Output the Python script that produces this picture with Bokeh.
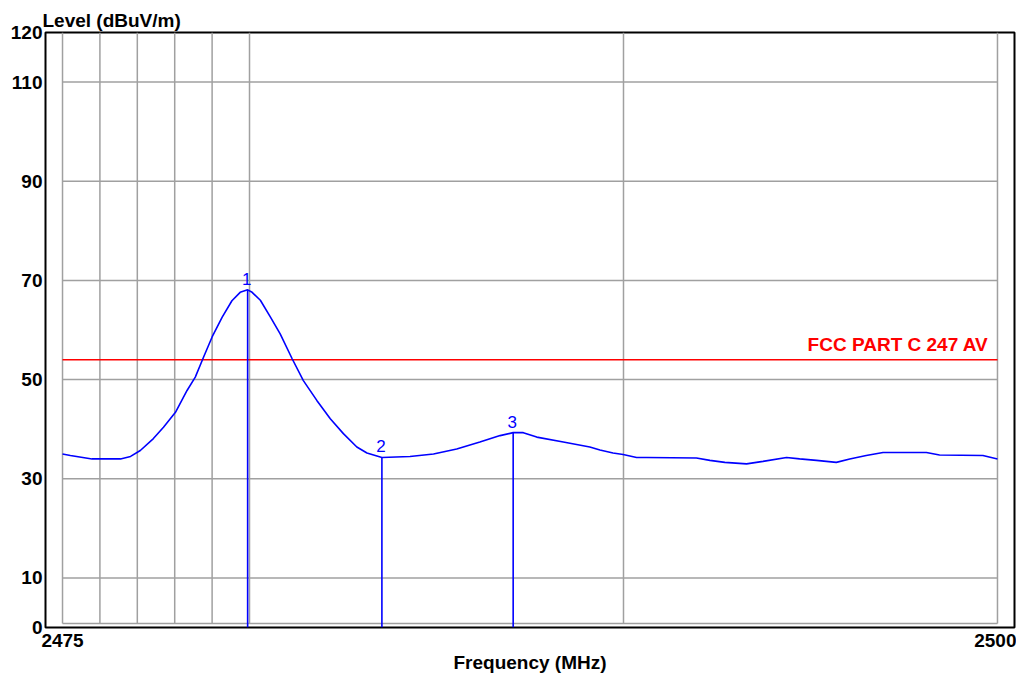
from bokeh.plotting import figure
from bokeh.models import FixedTicker, Range1d
from bokeh.core.properties import value
from bokeh.embed import file_html
from bokeh.resources import INLINE

# ---- data ----
freq = [2475.0, 2475.21, 2475.79, 2476.55, 2476.82, 2477.08, 2477.43, 2477.70, 2478.02, 2478.33,
        2478.55, 2478.77, 2479.00, 2479.27, 2479.53, 2479.75, 2479.95, 2480.07, 2480.29, 2480.56,
        2480.82, 2481.14, 2481.44, 2481.80, 2482.16, 2482.51, 2482.87, 2483.14, 2483.54, 2484.29,
        2484.92, 2485.54, 2486.16, 2486.70, 2487.05, 2487.32, 2487.68, 2488.39, 2489.10, 2489.37,
        2489.72, 2489.99, 2490.35, 2490.62, 2491.95, 2492.31, 2492.71, 2493.29, 2493.73, 2494.36,
        2494.71, 2495.16, 2495.69, 2496.05, 2496.49, 2496.94, 2498.10, 2498.45, 2499.61, 2500.0]
level = [35.0, 34.7, 34.0, 34.0, 34.5, 35.7, 38.1, 40.4, 43.4, 47.8,
         50.5, 54.5, 58.6, 62.6, 65.9, 67.6, 68.1, 67.6, 66.0, 62.6,
         59.2, 54.2, 49.8, 45.8, 42.1, 39.1, 36.4, 35.2, 34.3, 34.5,
         35.0, 36.0, 37.4, 38.7, 39.3, 39.3, 38.4, 37.4, 36.4, 35.8,
         35.2, 34.9, 34.3, 34.3, 34.2, 33.7, 33.3, 33.0, 33.5, 34.3,
         34.0, 33.7, 33.3, 34.0, 34.7, 35.3, 35.3, 34.8, 34.7, 34.0]

marker_ids = ["1", "2", "3"]
marker_freq = [2479.95, 2483.54, 2487.05]
marker_level = [68.1, 34.3, 39.3]

limit_level = 54.0
limit_name = "FCC PART C 247 AV"

y_ticks = [0, 10, 30, 50, 70, 90, 110, 120]
x_ticks = [2475, 2500]
x_grid = [2475, 2476, 2477, 2478, 2479, 2480, 2490, 2500]
y_grid = [10, 30, 50, 70, 90, 110]
grid_floor = 0.8

x_start, x_end = 2475, 2500
y_start, y_end = 0, 120

FONT = "Liberation Sans"

p = figure(width=1016, height=679, output_backend="svg", toolbar_location=None,
           x_range=Range1d(2474.545, 2500.455), y_range=Range1d(y_start, y_end),
           min_border_left=45, min_border_right=2, min_border_top=32, min_border_bottom=52,
           title="Level (dBuV/m)")
p.background_fill_color = "white"
p.border_fill_color = "white"
p.outline_line_color = "black"
p.outline_line_width = 2
p.xgrid.visible = False
p.ygrid.visible = False

p.title.align = "left"
p.title.offset = -3
p.title.standoff = 3
p.title.text_font = FONT
p.title.text_font_style = "bold"
p.title.text_font_size = "19px"
p.title.text_color = "black"

# axes
for ax in (p.xaxis[0], p.yaxis[0]):
    ax.axis_line_color = None
    ax.major_tick_line_color = None
    ax.minor_tick_line_color = None
    ax.major_tick_out = 0
    ax.major_tick_in = 0
    ax.minor_tick_out = 0
    ax.major_label_text_font = FONT
    ax.major_label_text_font_style = "bold"
    ax.major_label_text_font_size = "19px"
    ax.major_label_text_color = "black"
p.yaxis.ticker = FixedTicker(ticks=y_ticks)
p.yaxis.major_label_standoff = 3
p.xaxis.ticker = FixedTicker(ticks=x_ticks)
p.xaxis.major_label_standoff = 6
p.xaxis.axis_label = "Frequency (MHz)"
p.xaxis.axis_label_text_font = FONT
p.xaxis.axis_label_text_font_style = "bold"
p.xaxis.axis_label_text_font_size = "19px"
p.xaxis.axis_label_text_color = "black"
p.xaxis.axis_label_standoff = 2

# grid
gcol = "#a0a0a0"
p.segment(x0=x_grid, y0=[grid_floor] * len(x_grid), x1=x_grid, y1=[y_end] * len(x_grid),
          line_color=gcol, line_width=1.5)
p.segment(x0=[x_start] * len(y_grid), y0=y_grid, x1=[x_end] * len(y_grid), y1=y_grid,
          line_color=gcol, line_width=1.5)
p.segment(x0=[x_start], y0=[grid_floor], x1=[x_end], y1=[grid_floor], line_color=gcol, line_width=1.5)

# limit line
p.segment(x0=[x_start], y0=[limit_level], x1=[x_end], y1=[limit_level], line_color="#ff0000", line_width=1.5)
p.text(x=[x_end], y=[limit_level], text=[limit_name], x_offset=-9, y_offset=-5,
       text_align="right", text_baseline="bottom", text_color="#ff0000",
       text_font=value(FONT), text_font_style="bold", text_font_size="19px")

# trace
p.line(freq, level, line_color="#0000ff", line_width=1.6)

# markers
p.segment(x0=marker_freq, y0=marker_level, x1=marker_freq, y1=[y_start] * len(marker_freq),
          line_color="#0000ff", line_width=1.6)
p.text(x=marker_freq, y=marker_level, text=marker_ids, y_offset=-5, x_offset=-1,
       text_align="center", text_baseline="bottom", text_color="#0000ff",
       text_font=value(FONT), text_font_size="17px")

open("out.html", "w").write(file_html(p, INLINE))
